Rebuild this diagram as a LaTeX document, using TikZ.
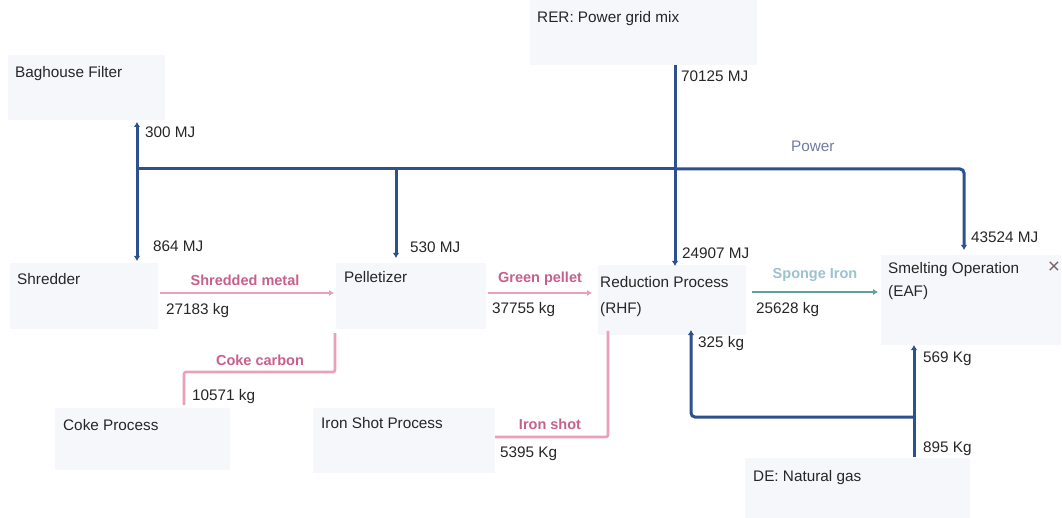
\documentclass[tikz,border=0pt]{standalone}
\usepackage{fontspec}
\setmainfont{Liberation Sans}
\usetikzlibrary{arrows.meta}
\definecolor{flowblue}{RGB}{45,80,142}
\definecolor{flowpink}{RGB}{234,160,186}
\definecolor{pinktext}{RGB}{200,96,140}
\definecolor{flowteal}{RGB}{95,160,162}
\definecolor{tealtext}{RGB}{155,195,206}
\definecolor{powertext}{RGB}{115,122,165}
\definecolor{boxfill}{RGB}{246,247,251}
\definecolor{closegray}{RGB}{120,100,100}
\begin{document}
\begin{tikzpicture}[x=1pt,y=-1pt,
  font=\fontsize{15.3}{18}\selectfont,
  procbox/.style={fill=boxfill, draw=none, inner sep=0pt, anchor=north west},
  lbl/.style={anchor=base west, inner sep=0pt, text=black!85},
  flowlbl/.style={anchor=base, inner sep=0pt, font=\fontsize{14.5}{17}\selectfont\bfseries},
  bluef/.style={draw=flowblue, line width=3pt, rounded corners=4pt},
  pinkf/.style={draw=flowpink, line width=2.6pt, rounded corners=2pt},
  tealf/.style={draw=flowteal, line width=2.6pt},
  tipb/.style={-{Latex[length=5pt,width=6.5pt]}}
]
\useasboundingbox (0,0) rectangle (1062,518);
\fill[white] (0,0) rectangle (1062,518);

% faint process boxes
\node[procbox, minimum width=227pt, minimum height=65pt] (rerbox) at (530,0) {};
\node[procbox, minimum width=157pt, minimum height=65pt] (bagbox) at (8,55) {};
\node[procbox, minimum width=148pt, minimum height=66pt] (shredbox) at (10,263) {};
\node[procbox, minimum width=150pt, minimum height=66pt] (pellbox) at (336,263) {};
\node[procbox, minimum width=148pt, minimum height=70pt] (redbox) at (598,265) {};
\node[procbox, minimum width=180pt, minimum height=90pt] (smeltbox) at (881,255) {};
\node[procbox, minimum width=175pt, minimum height=62pt] (cokebox) at (55,408) {};
\node[procbox, minimum width=182pt, minimum height=65pt] (shotbox) at (313,408) {};
\node[procbox, minimum width=225pt, minimum height=60pt] (gasbox) at (745,458) {};

% process names
\node[lbl] (rer) at (537,23) {RER: Power grid mix};
\node[lbl] (bag) at (15,78) {Baghouse Filter};
\node[lbl] (shred) at (17,285) {Shredder};
\node[lbl] (pell) at (344,283) {Pelletizer};
\node[lbl] (red) at (600,288) {Reduction Process};
\node[lbl] (redb) at (600,314) {(RHF)};
\node[lbl] (smelt) at (888,274) {Smelting Operation};
\node[lbl] (smeltb) at (888,297) {(EAF)};
\node[lbl] (coke) at (63,430) {Coke Process};
\node[lbl] (shot) at (321,428) {Iron Shot Process};
\node[lbl] (gas) at (753,481) {DE: Natural gas};
\node[anchor=center, inner sep=0pt, text=closegray, font=\fontsize{21}{21}\selectfont] (close) at (1054,268) {×};

% power network coordinates
\coordinate (rertop) at (675,65);
\coordinate (j1) at (137,169);
\coordinate (j2) at (396,169);
\coordinate (j3) at (675,169);
\coordinate (je) at (964,169);
\coordinate (bagtip) at (137,122);
\coordinate (shredtip) at (137,261);
\coordinate (pelltip) at (396,258);
\coordinate (redtip) at (675,266);
\coordinate (smelttip) at (964,250);

\draw[bluef, tipb] (j1) -- (bagtip);
\draw[bluef, tipb] (j1) -- (shredtip);
\draw[bluef] (j1) -- (j3);
\draw[bluef, tipb] (j3) -- (je) -- (smelttip);
\draw[bluef, tipb] (j2) -- (pelltip);
\draw[bluef, tipb] (rertop) -- (redtip);

\node[anchor=base west, inner sep=0pt, text=powertext] (powerlbl) at (791,152) {Power};
\node[lbl] (e70125) at (681,82) {70125 MJ};
\node[lbl] (e300) at (145,138) {300 MJ};
\node[lbl] (e864) at (153,252) {864 MJ};
\node[lbl] (e530) at (410,253) {530 MJ};
\node[lbl] (e24907) at (682,259) {24907 MJ};
\node[lbl] (e43524) at (971,243) {43524 MJ};

% material flows
\coordinate (sm1) at (160,293);
\coordinate (sm2) at (334,293);
\draw[pinkf, tipb] (sm1) -- (sm2);
\node[flowlbl, text=pinktext] (smlbl) at (245,286) {Shredded metal};
\node[lbl] (m27183) at (166,315) {27183 kg};

\coordinate (gp1) at (488,293);
\coordinate (gp2) at (592,293);
\draw[pinkf, tipb] (gp1) -- (gp2);
\node[flowlbl, text=pinktext] (gplbl) at (540,283) {Green pellet};
\node[lbl] (m37755) at (492,313) {37755 kg};

\coordinate (si1) at (752,292);
\coordinate (si2) at (878,292);
\draw[tealf, tipb] (si1) -- (si2);
\node[flowlbl, text=tealtext] (silbl) at (815,279) {Sponge Iron};
\node[lbl] (m25628) at (756,313) {25628 kg};

\coordinate (cc1) at (184,405);
\coordinate (cc2) at (184,372);
\coordinate (cc3) at (335,372);
\coordinate (cc4) at (335,333);
\draw[pinkf] (cc1) -- (cc2) -- (cc3) -- (cc4);
\node[flowlbl, text=pinktext] (cclbl) at (260,365) {Coke carbon};
\node[lbl] (m10571) at (192,400) {10571 kg};

\coordinate (is1) at (495,437);
\coordinate (is2) at (608,437);
\coordinate (is3) at (608,331);
\draw[pinkf] (is1) -- (is2) -- (is3);
\node[flowlbl, text=pinktext] (islbl) at (550,429) {Iron shot};
\node[lbl] (m5395) at (500,457) {5395 Kg};

% natural gas
\coordinate (ng0) at (914,457);
\coordinate (ngj) at (914,417);
\coordinate (ngtip) at (914,345);
\coordinate (ngc) at (691,417);
\coordinate (ngtip2) at (691,330);
\draw[bluef, tipb] (ng0) -- (ngtip);
\draw[bluef, tipb] (ngj) -- (ngc) -- (ngtip2);
\node[lbl] (g325) at (698,348) {325 kg};
\node[lbl] (g569) at (923,362) {569 Kg};
\node[lbl] (g895) at (923,452) {895 Kg};
\end{tikzpicture}
\end{document}
